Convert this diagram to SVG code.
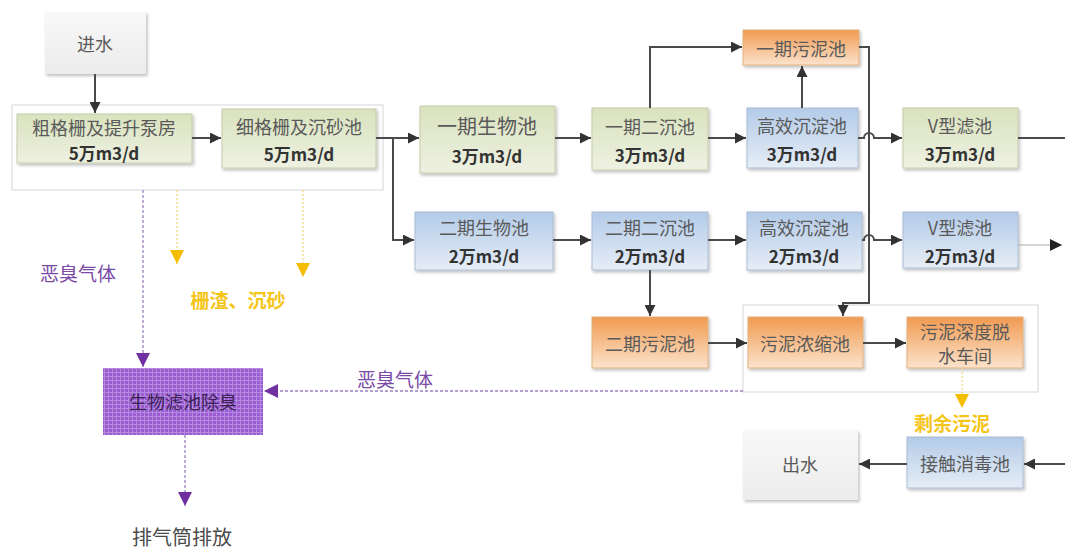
<svg xmlns="http://www.w3.org/2000/svg" width="1065" height="552" viewBox="0 0 1065 552">
<defs>
<linearGradient id="gGreen" x1="0" y1="0" x2="0" y2="1"><stop offset="0" stop-color="#d9e2bd"/><stop offset="1" stop-color="#eef1e2"/></linearGradient>
<linearGradient id="gBlue" x1="0" y1="0" x2="0" y2="1"><stop offset="0" stop-color="#b3cbe8"/><stop offset="1" stop-color="#e6edf6"/></linearGradient>
<linearGradient id="gOrange" x1="0" y1="0" x2="0" y2="1"><stop offset="0" stop-color="#f19a50"/><stop offset="1" stop-color="#fbe3cc"/></linearGradient>
<linearGradient id="gGray" x1="0" y1="0" x2="0" y2="1"><stop offset="0" stop-color="#f8f8f8"/><stop offset="1" stop-color="#ececec"/></linearGradient>
<pattern id="grid" width="4" height="4" patternUnits="userSpaceOnUse"><rect width="4" height="4" fill="#9a5cd0"/><path d="M0,0.5H4M0.5,0V4" stroke="#b48ae0" stroke-width="1"/></pattern>
<filter id="sh" x="-10%" y="-10%" width="125%" height="130%"><feDropShadow dx="1.5" dy="2" stdDeviation="1.5" flood-color="#000" flood-opacity="0.25"/></filter>
<marker id="arr" viewBox="0 0 10 10" refX="10" refY="5" markerWidth="5.5" markerHeight="5.5" orient="auto" markerUnits="strokeWidth"><path d="M0,0 L10,5 L0,10 z" fill="#333"/></marker>
<marker id="arrP" viewBox="0 0 10 10" refX="10" refY="5" markerWidth="14" markerHeight="14" orient="auto" markerUnits="userSpaceOnUse"><path d="M0,0 L10,5 L0,10 z" fill="#7030a0"/></marker>
<marker id="arrY" viewBox="0 0 10 10" refX="10" refY="5" markerWidth="14" markerHeight="14" orient="auto" markerUnits="userSpaceOnUse"><path d="M0,0 L10,5 L0,10 z" fill="#f5bd00"/></marker>
<marker id="arrBig" viewBox="0 0 10 10" refX="10" refY="5" markerWidth="12" markerHeight="12" orient="auto" markerUnits="userSpaceOnUse"><path d="M0,0 L10,5 L0,10 z" fill="#222"/></marker>
</defs>
<style>
text{font-family:"Noto Sans CJK SC","Noto Sans",sans-serif;text-anchor:middle;dominant-baseline:central}
.t1{font-size:18px;fill:#5a5a5a}
.t2{font-size:17px;fill:#333;font-weight:bold}
.green{fill:url(#gGreen);stroke:#c5cca8;stroke-width:1;filter:url(#sh)}
.blue{fill:url(#gBlue);stroke:#a9bcd4;stroke-width:1;filter:url(#sh)}
.orange{fill:url(#gOrange);stroke:#e0b080;stroke-width:1;filter:url(#sh)}
.gray{fill:url(#gGray);filter:url(#sh)}
.grp{fill:#fff;stroke:#d6d6d6;stroke-width:1}
.ln{fill:none;stroke:#4a4a4a;stroke-width:2}
.lnP{fill:none;stroke:#9a80c0;stroke-width:1.3;stroke-dasharray:3 2}
.lnY{fill:none;stroke:#f2dc80;stroke-width:1.3;stroke-dasharray:2 2}
.lblP{font-size:19px;fill:#7a4aa6}
.lblY{font-size:19px;fill:#f5c518;font-weight:bold}
</style>

<rect class="grp" x="12" y="105" width="371" height="85"/>
<rect class="grp" x="743" y="305" width="295" height="87"/>

<g id="n-jinshui"><rect class="gray" x="45" y="12" width="101" height="62"/><text class="t1" x="95" y="43">进水</text></g>
<g id="n-cugeshan"><rect class="green" x="17" y="114" width="175" height="49"/><text class="t1" x="104" y="127">粗格栅及提升泵房</text><text class="t2" x="104" y="152">5万m3/d</text></g>
<g id="n-xigeshan"><rect class="green" x="222" y="109" width="154" height="59"/><text class="t1" x="299" y="126">细格栅及沉砂池</text><text class="t2" x="299" y="153">5万m3/d</text></g>
<g id="n-bio1"><rect class="green" x="420" y="106" width="135" height="67"/><text class="t1" x="487" y="125" style="font-size:20px">一期生物池</text><text class="t2" x="487" y="155">3万m3/d</text></g>
<g id="n-sec1"><rect class="green" x="592" y="108" width="116" height="62"/><text class="t1" x="650" y="126">一期二沉池</text><text class="t2" x="650" y="154">3万m3/d</text></g>
<g id="n-hx1"><rect class="blue" x="747" y="108" width="111" height="60"/><text class="t1" x="802" y="125">高效沉淀池</text><text class="t2" x="802" y="153">3万m3/d</text></g>
<g id="n-v1"><rect class="green" x="903" y="108" width="115" height="60"/><text class="t1" x="960" y="125">V型滤池</text><text class="t2" x="960" y="153">3万m3/d</text></g>
<g id="n-sludge1"><rect class="orange" x="743" y="30" width="116" height="35"/><text class="t1" x="801" y="48">一期污泥池</text></g>

<g id="n-bio2"><rect class="blue" x="415" y="212" width="138" height="58"/><text class="t1" x="484" y="227">二期生物池</text><text class="t2" x="484" y="255">2万m3/d</text></g>
<g id="n-sec2"><rect class="blue" x="592" y="212" width="116" height="58"/><text class="t1" x="650" y="227">二期二沉池</text><text class="t2" x="650" y="255">2万m3/d</text></g>
<g id="n-hx2"><rect class="blue" x="747" y="212" width="115" height="58"/><text class="t1" x="804" y="227">高效沉淀池</text><text class="t2" x="804" y="255">2万m3/d</text></g>
<g id="n-v2"><rect class="blue" x="903" y="212" width="115" height="56"/><text class="t1" x="960" y="227">V型滤池</text><text class="t2" x="960" y="255">2万m3/d</text></g>

<g id="n-sludge2"><rect class="orange" x="592" y="317" width="116" height="51"/><text class="t1" x="650" y="343">二期污泥池</text></g>
<g id="n-thicken"><rect class="orange" x="748" y="317" width="115" height="51"/><text class="t1" x="805" y="343">污泥浓缩池</text></g>
<g id="n-dewater"><rect class="orange" x="907" y="317" width="116" height="51"/><text class="t1" x="965" y="331">污泥深度脱</text><text class="t1" x="965" y="355">水车间</text></g>

<g id="n-disinfect"><rect class="blue" x="907" y="437" width="116" height="51"/><text class="t1" x="965" y="463">接触消毒池</text></g>
<g id="n-chushui"><rect class="gray" x="743" y="430" width="115" height="70"/><text class="t1" x="800" y="464">出水</text></g>

<g id="n-biofilter"><rect x="103" y="368" width="160" height="67" fill="url(#grid)"/><text x="183" y="401" style="font-size:18px;fill:#3a1f55">生物滤池除臭</text></g>

<g id="labels">
<text class="lblP" x="78" y="272">恶臭气体</text>
<text class="lblP" x="395" y="378">恶臭气体</text>
<text class="lblY" x="238" y="299">栅渣、沉砂</text>
<text class="lblY" x="952" y="422">剩余污泥</text>
<text x="182" y="536" style="font-size:20px;fill:#4a4a4a">排气筒排放</text>
</g>

<g id="connectors">
<path class="ln" d="M95,74 V113" marker-end="url(#arr)"/>
<path class="ln" d="M192,138 H221" marker-end="url(#arr)"/>
<path class="ln" d="M376,138 H419" marker-end="url(#arr)"/>
<path class="ln" d="M393,138 V240 H414" marker-end="url(#arr)"/>
<path class="ln" d="M555,138 H591" marker-end="url(#arr)"/>
<path class="ln" d="M708,138 H746" marker-end="url(#arr)"/>
<path class="ln" d="M650,108 V47 H742" marker-end="url(#arr)"/>
<path class="ln" d="M802,108 V66" marker-end="url(#arr)"/>
<path class="ln" d="M858,138 H864 a5,5 0 0 1 10,0 H902" marker-end="url(#arr)"/>
<path class="ln" d="M1018,138 H1065"/>
<path class="ln" d="M859,47 H869 V303 H843 V316" marker-end="url(#arr)"/>
<path class="ln" d="M553,240 H591" marker-end="url(#arr)"/>
<path class="ln" d="M708,240 H746" marker-end="url(#arr)"/>
<path class="ln" d="M862,240 H864 a5,5 0 0 1 10,0 H902" marker-end="url(#arr)"/>
<path d="M1018,245 H1062" fill="none" stroke="#aaa" stroke-width="1" marker-end="url(#arrBig)"/>
<path class="ln" d="M650,270 V316" marker-end="url(#arr)"/>
<path class="ln" d="M708,343 H747" marker-end="url(#arr)"/>
<path class="ln" d="M863,343 H906" marker-end="url(#arr)"/>
<path class="ln" d="M1065,464 H1024" marker-end="url(#arr)"/>
<path class="ln" d="M907,464 H859" marker-end="url(#arr)"/>
<path class="lnY" d="M962,368 V408" marker-end="url(#arrY)"/>
<path class="lnY" d="M177,190 V264" marker-end="url(#arrY)"/>
<path class="lnY" d="M303,190 V277" marker-end="url(#arrY)"/>
<path class="lnP" d="M143,190 V367" marker-end="url(#arrP)"/>
<path class="lnP" d="M743,391 H264" marker-end="url(#arrP)"/>
<path class="lnP" d="M185,435 V506" marker-end="url(#arrP)"/>
</g>
</svg>
